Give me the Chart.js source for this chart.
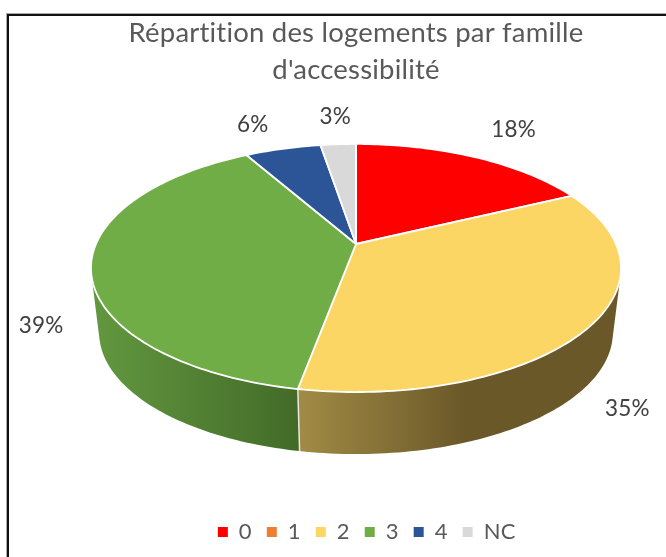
<!DOCTYPE html>
<html>
<head>
<meta charset="utf-8">
<script src="https://cdn.jsdelivr.net/npm/chart.js@4"></script>
<style>
html, body { margin: 0; padding: 0; background: #fff; overflow: hidden; }
#frame { position: absolute; left: 7px; top: 14px; width: 700px; height: 600px; border: 2px solid #111; box-shadow: 0 0 0 1px #aaa; box-sizing: border-box; }
canvas { position: absolute; left: 0; top: 0; }
</style>
</head>
<body>
<div id="frame"></div>
<canvas id="chart" width="666" height="557"></canvas>
<script>
// values
const categories = ["0", "1", "2", "3", "4", "NC"];
const shares = [17.8, 0, 35.1, 38.9, 5.6, 2.6];
const sliceColors = ["#ff0000", "#ed7d31", "#fcd664", "#70ad47", "#2c5597", "#d9d9d9"];
const sideLight = ["#991a1a", "#8e4b1d", "#a28b45", "#62983f", "#1a335a", "#828282"];
const sideDark = ["#991a1a", "#8e4b1d", "#6a5829", "#436b28", "#1a335a", "#828282"];
const titleLines = ["Répartition des logements par famille", "d'accessibilité"];

// label offset from the rim point at the middle of each slice
const labelOffsets = [[39, -27], [0, 0], [37, 83], [-50, 61], [-30, -24], [-3, -27]];

// perspective of the tilted disc
const top3d = { cx: 356, cy: 244, a: 260, b: 119.4, k: 0.1935 };
const bottom3d = { cx: 356, cy: 309, a: 252, b: 117, k: 0.1935 };

function project(p, theta)
{
    let u = Math.sin(theta), v = -Math.cos(theta);
    let d = 1 - p.k * v;
    return [p.cx + p.a * u / d, p.cy + p.b * v / d];
}

function rimPoints(p, from, to)
{
    let pts = [];
    let steps = Math.max(2, Math.ceil((to - from) / 0.02));
    for(let i = 0; i <= steps; ++i)
        pts.push(project(p, from + (to - from) * i / steps));
    return pts;
}

function addPolygon(ctx, pts)
{
    pts.forEach((q, i) => i ? ctx.lineTo(q[0], q[1]) : ctx.moveTo(q[0], q[1]));
    ctx.closePath();
}

function signedArea(pts)
{
    let sum = 0;
    pts.forEach((q, i) =>
    {
        let n = pts[(i + 1) % pts.length];
        sum += q[0] * n[1] - n[0] * q[1];
    });
    return sum;
}

const pie3d = {
    id: "pie3d",
    afterLayout(chart)
    {
        // legend sits a little right of and below the default place
        chart.legend.left += 20;
        chart.legend.top += 4;
        chart.legend.bottom += 4;
    },
    beforeDraw(chart)
    {
        // keeps the "ti" pairs apart
        chart.ctx.letterSpacing = "0.2px";
    },
    beforeDatasetsDraw(chart)
    {
        const ctx = chart.ctx;
        const arcs = chart.getDatasetMeta(0).data;
        const quarter = Math.PI / 2;
        ctx.save();

        // side wall first, the top covers the hidden part
        arcs.forEach((arc, i) =>
        {
            if(!shares[i]) return;
            let from = arc.startAngle + quarter, to = arc.endAngle + quarter;
            let grad = ctx.createLinearGradient(i == 3 ? 92 : 298, 0, i == 3 ? 298 : 465, 0);
            grad.addColorStop(0, sideLight[i]);
            grad.addColorStop(1, sideDark[i]);
            let upper = rimPoints(top3d, from, to), lower = rimPoints(bottom3d, from, to);
            // one path with every quad wound the same way, so no seams
            ctx.beginPath();
            for(let s = 0; s < upper.length - 1; ++s)
            {
                let quad = [upper[s], upper[s + 1], lower[s + 1], lower[s]];
                if(signedArea(quad) < 0)
                    quad.reverse();
                addPolygon(ctx, quad);
            }
            ctx.fillStyle = grad;
            ctx.fill();
        });
        arcs.forEach((arc, i) =>
        {
            if(!shares[i]) return;
            let from = arc.startAngle + quarter;
            let a = project(top3d, from), b = project(bottom3d, from);
            ctx.beginPath();
            ctx.moveTo(a[0], a[1]);
            ctx.lineTo(b[0], b[1]);
            ctx.strokeStyle = "#e8e8e0";
            ctx.lineWidth = 1.5;
            ctx.stroke();
        });

        // top face
        arcs.forEach((arc, i) =>
        {
            if(!shares[i]) return;
            let pts = rimPoints(top3d, arc.startAngle + quarter, arc.endAngle + quarter);
            pts.push([top3d.cx, top3d.cy]);
            ctx.beginPath();
            addPolygon(ctx, pts);
            ctx.fillStyle = sliceColors[i];
            ctx.fill();
            ctx.strokeStyle = "#ffffff";
            ctx.lineWidth = 1.8;
            ctx.lineJoin = "round";
            ctx.stroke();
        });

        // percent labels
        ctx.font = "22.5px Lato";
        ctx.fillStyle = "#404040";
        ctx.textAlign = "center";
        ctx.textBaseline = "middle";
        arcs.forEach((arc, i) =>
        {
            if(!shares[i]) return;
            let mid = (arc.startAngle + arc.endAngle) / 2 + quarter;
            let rim = project(top3d, mid);
            ctx.fillText(Math.round(shares[i]) + "%", rim[0] + labelOffsets[i][0], rim[1] + labelOffsets[i][1]);
        });
        ctx.restore();
        return false;
    }
};

new Chart(document.getElementById("chart").getContext("2d"),
{
    type: "pie",
    data:
    {
        labels: categories,
        datasets: [{ data: shares, backgroundColor: sliceColors, borderWidth: 0 }]
    },
    plugins: [pie3d],
    options:
    {
        responsive: false,
        animation: false,
        layout: { padding: { left: 46, top: 15, bottom: 8 } },
        plugins:
        {
            tooltip: { enabled: false },
            title:
            {
                display: true,
                text: titleLines,
                color: "#595959",
                font: { family: "Lato", size: 27.5, weight: "normal", lineHeight: 1.33 },
                padding: { top: 0, bottom: 10 }
            },
            legend:
            {
                position: "bottom",
                labels:
                {
                    color: "#595959",
                    font: { family: "Lato", size: 22 },
                    boxWidth: 10,
                    boxHeight: 10,
                    padding: 15
                }
            }
        }
    }
});
</script>
</body>
</html>
